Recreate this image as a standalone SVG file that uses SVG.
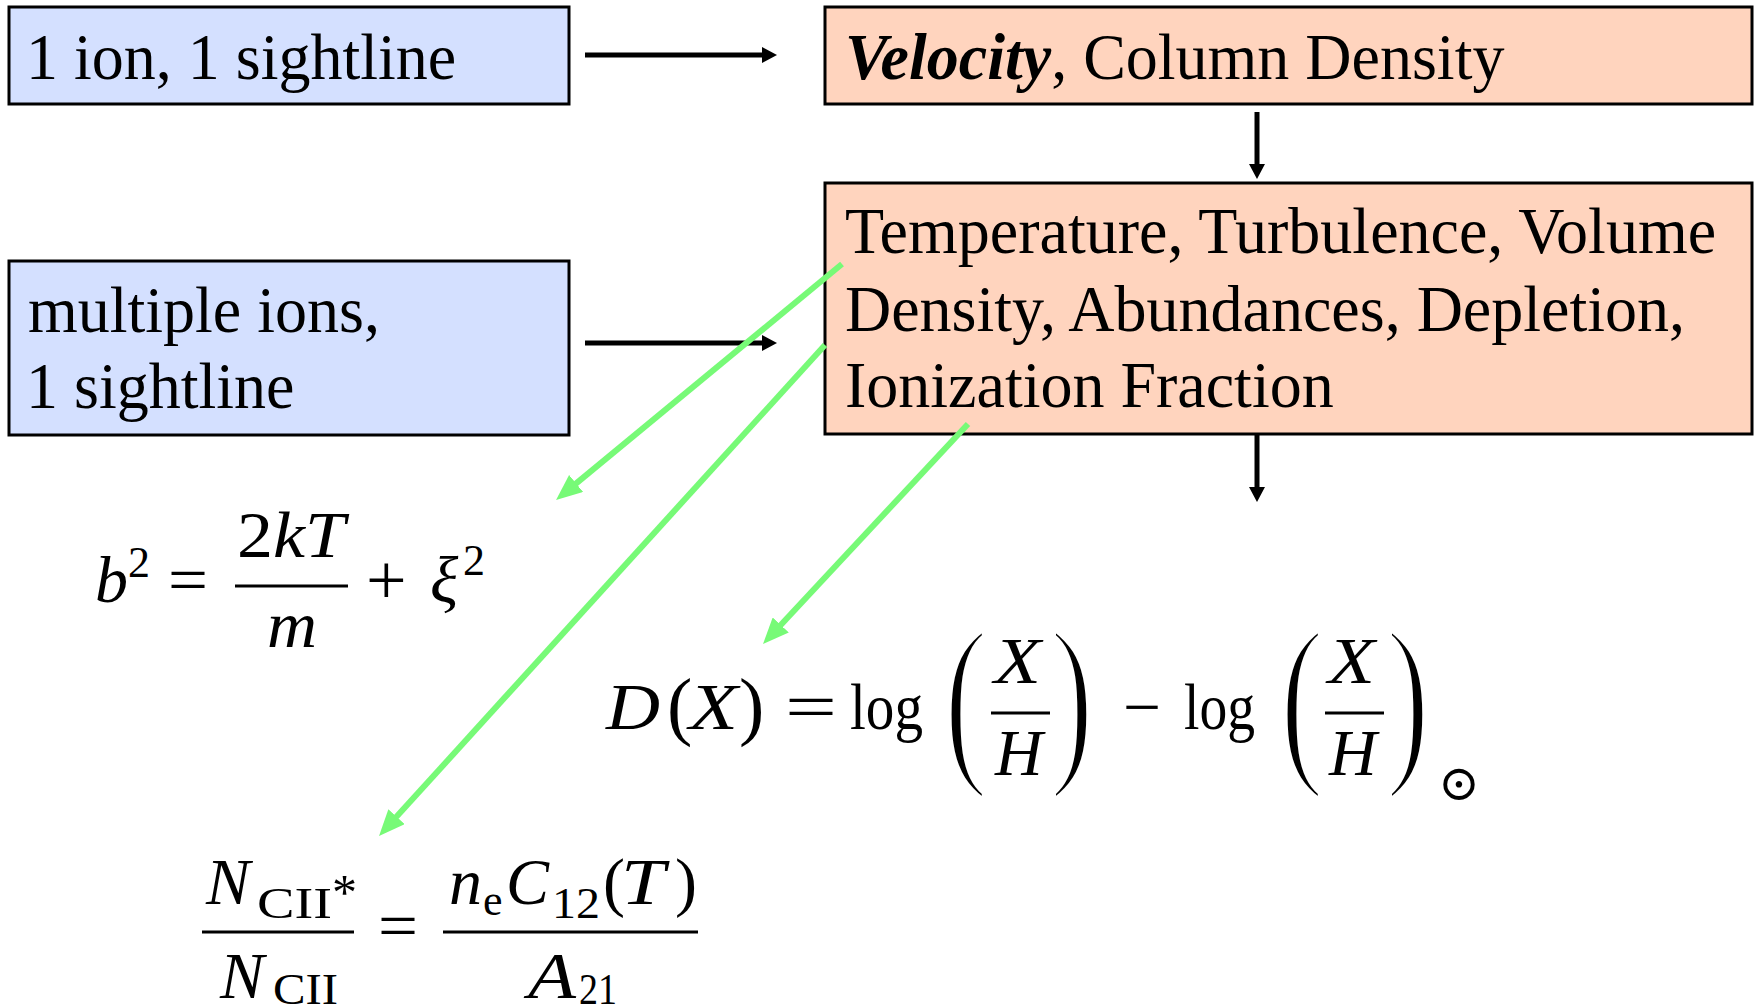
<svg xmlns="http://www.w3.org/2000/svg" width="1760" height="1008" viewBox="0 0 1760 1008">
<style>
.box{stroke:#000;stroke-width:3}
.blue{fill:#D4E0FF}
.orange{fill:#FFD4BE}
.bt{font-family:"Liberation Serif","Times New Roman",serif;font-size:64px;fill:#000}
.m{font-family:"Liberation Serif","Times New Roman",serif;fill:#000}
.i{font-style:italic}
.big{font-size:66px}
.sub{font-size:44px}
.dl{font-size:188px;stroke:#fff;stroke-width:5;paint-order:fill}
.bar{stroke:#000;stroke-width:3}
.ar{stroke:#000;stroke-width:5;fill:none}
.g{stroke:#77FA77;stroke-width:6;fill:none}
</style>
<defs>
<marker id="ah" markerUnits="userSpaceOnUse" markerWidth="16" markerHeight="16" refX="7" refY="8" orient="auto"><path d="M0,0 L15,8 L0,16 z" fill="#000"/></marker>
<marker id="gh" markerUnits="userSpaceOnUse" markerWidth="26" markerHeight="22" refX="14" refY="11" orient="auto"><path d="M0,0 L26,11 L0,22 z" fill="#77FA77"/></marker>
</defs>

<g id="node-one-ion">
<rect class="box blue" x="9" y="7" width="560" height="97"/>
<text class="bt" transform="translate(26,79) scale(1,1.04)">1 ion, 1 sightline</text>
</g>

<g id="node-velocity">
<rect class="box orange" x="825" y="7" width="927" height="97"/>
<text class="bt" transform="translate(845,79) scale(1,1.04)"><tspan font-weight="bold" font-style="italic">Velocity</tspan>, Column Density</text>
</g>

<g id="node-multiple-ions">
<rect class="box blue" x="9" y="261" width="560" height="174"/>
<text class="bt" transform="translate(28,332) scale(1,1.04)">multiple ions,</text>
<text class="bt" transform="translate(26,408) scale(1,1.04)">1 sightline</text>
</g>

<g id="node-temperature">
<rect class="box orange" x="825" y="183" width="927" height="251"/>
<text class="bt" transform="translate(845,253) scale(1,1.04)">Temperature, Turbulence, Volume</text>
<text class="bt" transform="translate(845,331) scale(1,1.04)">Density, Abundances, Depletion,</text>
<text class="bt" transform="translate(845,407) scale(1,1.04)">Ionization Fraction</text>
</g>

<g id="eq-doppler">
<text class="m i big" x="95" y="602">b</text>
<text class="m sub" x="128" y="577">2</text>
<text class="m" x="168" y="602" font-size="66" textLength="40" lengthAdjust="spacingAndGlyphs">=</text>
<text class="m big" x="237" y="557" textLength="108" lengthAdjust="spacingAndGlyphs">2<tspan font-style="italic">kT</tspan></text>
<line class="bar" x1="235" y1="586" x2="348" y2="586"/>
<text class="m i big" x="267" y="647" textLength="50" lengthAdjust="spacingAndGlyphs">m</text>
<text class="m" x="366" y="604" font-size="72">+</text>
<text class="m i big" x="430" y="602">ξ</text>
<text class="m sub" x="463" y="575">2</text>
</g>

<g id="eq-depletion">
<text class="m i big" x="606" y="729" textLength="54" lengthAdjust="spacingAndGlyphs">D</text>
<text class="m" x="667" y="731" font-size="76">(</text>
<text class="m i big" x="689" y="729" textLength="49" lengthAdjust="spacingAndGlyphs">X</text>
<text class="m" x="739" y="731" font-size="76">)</text>
<text class="m" x="785" y="729" font-size="66" textLength="52" lengthAdjust="spacingAndGlyphs">=</text>
<text class="m big" x="850" y="729" textLength="73" lengthAdjust="spacingAndGlyphs">log</text>
<text class="m dl" transform="translate(944,760) scale(0.7,1)">(</text>
<text class="m i big" x="994" y="683" textLength="47" lengthAdjust="spacingAndGlyphs">X</text>
<line class="bar" x1="991" y1="713" x2="1050" y2="713"/>
<text class="m i big" x="995" y="775">H</text>
<text class="m dl" transform="translate(1050,760) scale(0.7,1)">)</text>
<text class="m" x="1123" y="729" font-size="66" textLength="38" lengthAdjust="spacingAndGlyphs">−</text>
<text class="m big" x="1184" y="729" textLength="71" lengthAdjust="spacingAndGlyphs">log</text>
<text class="m dl" transform="translate(1280,760) scale(0.7,1)">(</text>
<text class="m i big" x="1328" y="683" textLength="47" lengthAdjust="spacingAndGlyphs">X</text>
<line class="bar" x1="1325" y1="713" x2="1384" y2="713"/>
<text class="m i big" x="1329" y="775">H</text>
<text class="m dl" transform="translate(1386,760) scale(0.7,1)">)</text>
<text x="1438" y="800" font-family="'DejaVu Serif','DejaVu Sans',serif" font-size="50" fill="#000">⊙</text>
</g>

<g id="eq-cii">
<text class="m i big" x="206" y="904">N</text>
<text class="m sub" x="257" y="918" textLength="75" lengthAdjust="spacingAndGlyphs">CII</text>
<text class="m" x="332" y="909" font-size="50">*</text>
<line class="bar" x1="202" y1="932" x2="354" y2="932"/>
<text class="m i big" x="220" y="998">N</text>
<text class="m sub" x="273" y="1004" textLength="65" lengthAdjust="spacingAndGlyphs">CII</text>
<text class="m" x="378" y="948" font-size="66" textLength="40" lengthAdjust="spacingAndGlyphs">=</text>
<line class="bar" x1="443" y1="932" x2="698" y2="932"/>
<text class="m i big" x="449" y="904">n</text>
<text class="m sub" x="483" y="915">e</text>
<text class="m i big" x="506" y="904" textLength="43" lengthAdjust="spacingAndGlyphs">C</text>
<text class="m sub" x="552" y="918" textLength="48" lengthAdjust="spacingAndGlyphs">12</text>
<text class="m" x="603" y="904" font-size="66">(</text>
<text class="m i big" x="621" y="904" textLength="44" lengthAdjust="spacingAndGlyphs">T</text>
<text class="m" x="675" y="904" font-size="66">)</text>
<text class="m i big" x="528" y="998" textLength="48" lengthAdjust="spacingAndGlyphs">A</text>
<text class="m sub" x="579" y="1004" textLength="38" lengthAdjust="spacingAndGlyphs">21</text>
</g>

<g id="connectors">
<line class="ar" x1="585" y1="55" x2="769" y2="55" marker-end="url(#ah)"/>
<line class="ar" x1="585" y1="343" x2="769" y2="343" marker-end="url(#ah)"/>
<line class="ar" x1="1257" y1="112" x2="1257" y2="171" marker-end="url(#ah)"/>
<line class="ar" x1="1257" y1="435" x2="1257" y2="494" marker-end="url(#ah)"/>
<line class="g" x1="842" y1="264" x2="565.3" y2="492.4" marker-end="url(#gh)"/>
<line class="g" x1="825" y1="345" x2="387.1" y2="827.1" marker-end="url(#gh)"/>
<line class="g" x1="968" y1="424" x2="771.2" y2="635.2" marker-end="url(#gh)"/>
</g>
</svg>
